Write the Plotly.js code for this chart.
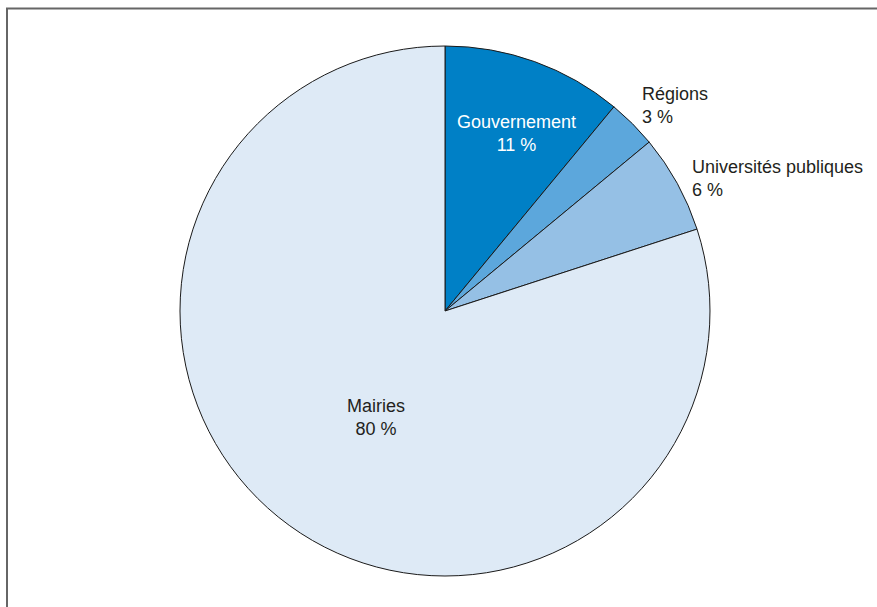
<!DOCTYPE html>
<html><head><meta charset="utf-8">
<script src="https://cdn.plot.ly/plotly-3.0.1.min.js"></script>
<style>body{margin:0;padding:0;background:#fff}#chart{width:877px;height:607px}</style>
</head><body><div id="chart"></div>
<script>
const categories = ["Gouvernement", "Régions", "Universités publiques", "Mairies"];
const shares = [11, 3, 6, 80];
const colors = ["#0080C6", "#5CA7DC", "#95C0E5", "#DEEAF6"];
const labelText = ["Gouvernement<br>11 %", "Régions<br>3 %", "Universités publiques<br>6 %", "Mairies<br>80 %"];

const W = 877, H = 607;
const cx = 445, cy = 311, r = 265;
const FONT = '"Liberation Sans Narrow", "Arial Narrow", "Liberation Sans", Arial, sans-serif';

const trace = {
  type: 'pie',
  labels: categories,
  values: shares,
  sort: false,
  direction: 'clockwise',
  rotation: 0,
  textinfo: 'none',
  hoverinfo: 'label+percent',
  marker: { colors: colors, line: { color: '#1a1a1a', width: 1 } },
  domain: { x: [(cx - r) / W, (cx + r) / W], y: [1 - (cy + r) / H, 1 - (cy - r) / H] },
  showlegend: false
};

const labelPos = [
  { x: 516, y: 133, anchor: 'center', align: 'center', color: '#ffffff' },
  { x: 640, y: 105, anchor: 'left', align: 'left', color: '#231f20' },
  { x: 690, y: 178, anchor: 'left', align: 'left', color: '#231f20' },
  { x: 376, y: 417, anchor: 'center', align: 'center', color: '#231f20' }
];

const annotations = labelText.map((t, i) => ({
  xref: 'paper', yref: 'paper',
  x: labelPos[i].x / W, y: 1 - labelPos[i].y / H,
  xanchor: labelPos[i].anchor, yanchor: 'middle', align: labelPos[i].align,
  text: t, showarrow: false,
  font: { family: FONT, size: 18, color: labelPos[i].color }
}));

const layout = {
  width: W, height: H,
  margin: { l: 0, r: 0, t: 0, b: 0 },
  paper_bgcolor: '#ffffff',
  annotations: annotations,
  shapes: [{
    type: 'rect', xref: 'paper', yref: 'paper',
    x0: 7 / W, x1: 1.05, y0: -0.05, y1: 1 - 8.5 / H,
    line: { color: '#666666', width: 2 }, fillcolor: 'rgba(0,0,0,0)'
  }]
};

Plotly.newPlot('chart', [trace], layout, { displayModeBar: false, staticPlot: true });
</script></body></html>
